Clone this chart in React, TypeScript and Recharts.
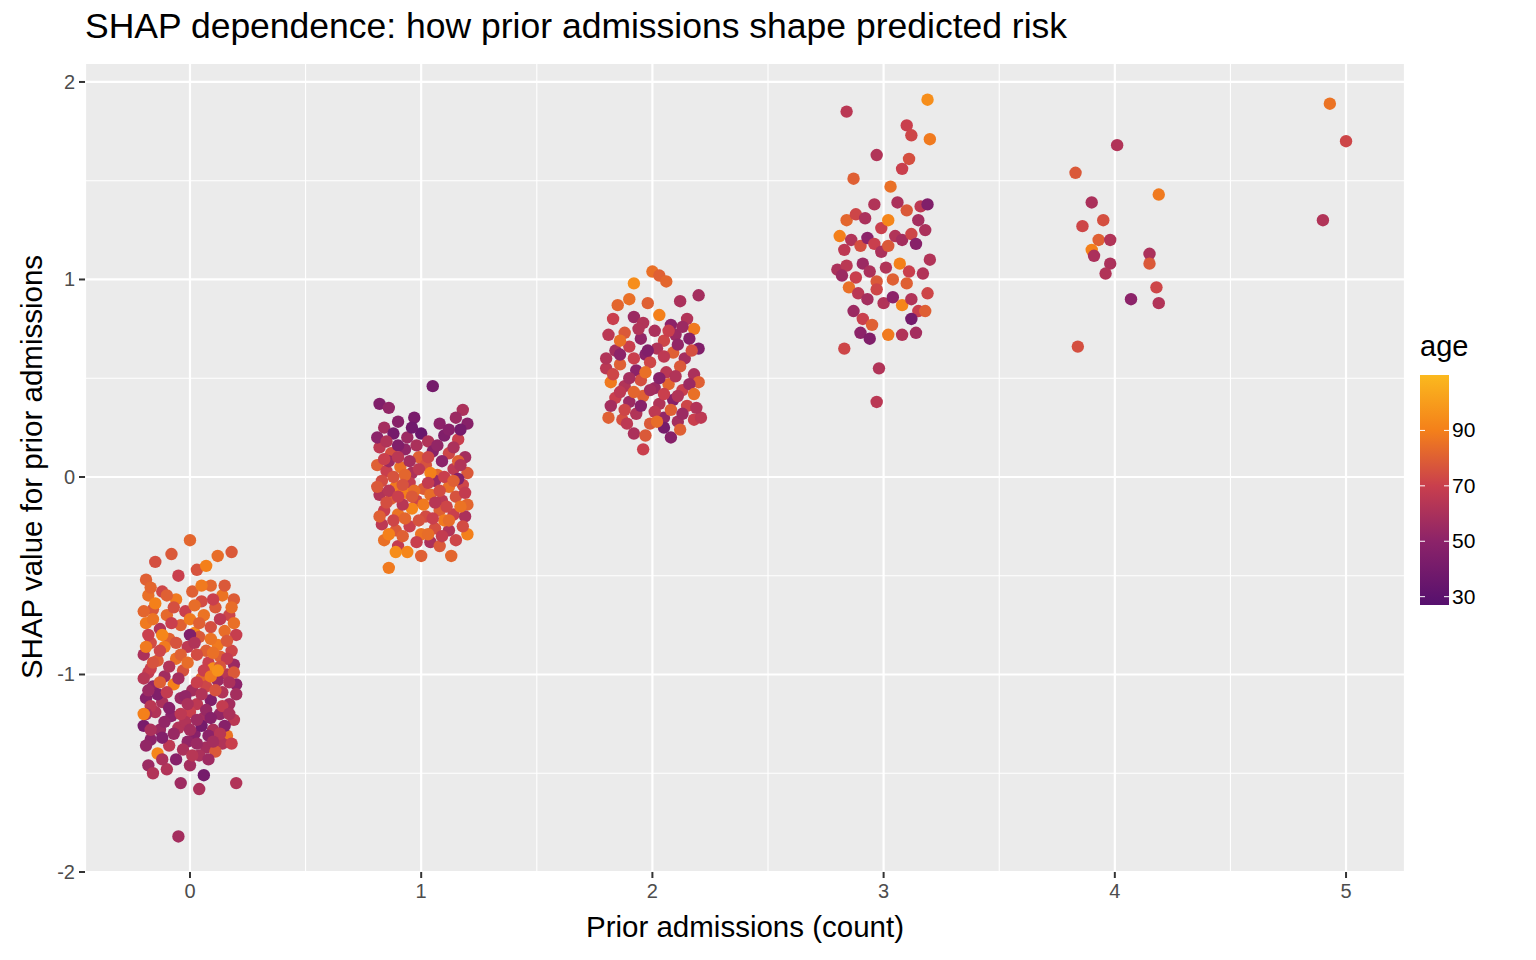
import { CartesianGrid, ReferenceLine, Scatter, ScatterChart, XAxis, YAxis } from "recharts";

// [prior admissions (jittered), SHAP value, age]
const admits0 = [
    [-0.19, -0.52, 80], [-0.15, -0.43, 75], [-0.08, -0.39, 78], [0.0, -0.32, 82], [0.03, -0.47, 76], [0.07, -0.45, 90], [0.12, -0.4, 84], [0.18, -0.38, 78], [-0.05, -0.5, 70], [0.09, -0.55, 82],
    [-0.18, -0.6, 85], [-0.12, -0.58, 72], [-0.06, -0.62, 88], [0.01, -0.58, 80], [0.05, -0.63, 74], [0.14, -0.6, 86], [0.19, -0.62, 79], [-0.16, -0.67, 77], [-0.1, -0.7, 83], [-0.02, -0.68, 70],
    [0.06, -0.7, 86], [0.11, -0.66, 78], [0.17, -0.7, 72], [-0.19, -0.74, 88], [-0.13, -0.77, 62], [-0.04, -0.75, 80], [0.02, -0.79, 92], [0.09, -0.76, 75], [0.15, -0.78, 84], [0.2, -0.8, 69],
    [-0.17, -0.84, 74], [-0.09, -0.82, 81], [-0.01, -0.86, 66], [0.04, -0.81, 78], [0.12, -0.85, 88], [0.18, -0.88, 72], [-0.2, -0.9, 60], [-0.14, -0.93, 79], [-0.06, -0.92, 85], [0.0, -0.8, 45],
    [0.08, -0.94, 70], [0.13, -0.91, 80], [0.19, -0.95, 55], [-0.18, -0.99, 68], [-0.11, -1.01, 57], [-0.03, -0.98, 76], [0.05, -1.02, 82], [0.1, -0.97, 95], [0.16, -1.0, 64], [-0.16, -1.06, 52],
    [-0.07, -1.05, 90], [0.01, -1.08, 58], [0.07, -1.06, 72], [0.14, -1.09, 62], [0.2, -1.05, 50], [-0.19, -1.12, 48], [-0.12, -1.14, 60], [-0.04, -1.12, 55], [0.03, -1.15, 66], [0.09, -1.13, 45],
    [0.17, -1.15, 58], [-0.15, -1.19, 62], [-0.08, -1.21, 50], [0.0, -1.19, 70], [0.06, -1.22, 58], [0.13, -1.2, 52], [0.19, -1.23, 65], [-0.2, -1.26, 42], [-0.13, -1.28, 55], [-0.05, -1.27, 62],
    [0.02, -1.3, 48], [0.1, -1.28, 60], [0.16, -1.31, 86], [-0.17, -1.33, 50], [-0.09, -1.36, 66], [-0.01, -1.34, 52], [0.07, -1.37, 58], [0.14, -1.35, 62], [-0.14, -1.4, 92], [-0.06, -1.43, 48],
    [0.04, -1.41, 60], [0.11, -1.39, 78], [-0.18, -1.46, 55], [-0.1, -1.48, 62], [0.0, -1.46, 58], [0.06, -1.51, 40], [-0.04, -1.55, 56], [0.04, -1.58, 60], [0.2, -1.55, 62], [-0.05, -1.82, 58],
    [-0.15, -0.64, 90], [-0.07, -0.66, 75], [0.02, -0.65, 84], [0.1, -0.62, 70], [-0.11, -0.86, 88], [0.07, -0.88, 80], [-0.17, -0.97, 70], [0.12, -1.03, 55], [-0.02, -1.24, 62], [0.15, -1.26, 48],
    [-0.14, -1.1, 45], [0.05, -1.26, 40],
    [-0.2, -0.68, 82], [-0.16, -0.72, 86], [-0.08, -0.74, 70], [0.0, -0.72, 88], [0.04, -0.74, 80], [0.13, -0.72, 66], [0.19, -0.74, 85], [-0.18, -0.8, 70], [-0.12, -0.8, 92], [-0.06, -0.84, 76],
    [0.02, -0.84, 62], [0.09, -0.82, 86], [0.16, -0.83, 78], [-0.19, -0.86, 88], [-0.13, -0.88, 72], [-0.04, -0.9, 80], [0.03, -0.9, 74], [0.1, -0.89, 85], [0.16, -0.92, 68], [-0.16, -0.94, 76],
    [-0.09, -0.96, 62], [-0.01, -0.94, 84], [0.06, -0.98, 70], [0.13, -0.96, 76], [0.19, -0.99, 78], [-0.2, -1.02, 64], [-0.13, -1.04, 80], [-0.05, -1.02, 58], [0.03, -1.04, 70], [0.09, -1.01, 88],
    [0.17, -1.04, 60], [-0.18, -1.08, 55], [-0.1, -1.09, 68], [-0.02, -1.11, 52], [0.05, -1.1, 62], [0.11, -1.08, 76], [0.2, -1.1, 58], [-0.17, -1.16, 65], [-0.09, -1.17, 48], [-0.01, -1.15, 60],
    [0.07, -1.18, 54], [0.14, -1.16, 68], [-0.19, -1.2, 58], [-0.11, -1.24, 52], [-0.04, -1.2, 66], [0.03, -1.23, 56], [0.09, -1.22, 48], [0.17, -1.2, 60], [-0.17, -1.28, 60], [-0.07, -1.3, 54],
    [0.0, -1.28, 58], [0.08, -1.31, 50], [0.13, -1.3, 64], [-0.19, -1.36, 52], [-0.12, -1.32, 46], [-0.03, -1.38, 60], [0.03, -1.35, 55], [0.1, -1.34, 58], [0.18, -1.35, 70], [-0.12, -1.43, 60],
    [0.01, -1.41, 64], [0.08, -1.43, 56], [-0.16, -1.5, 62], [-0.2, -1.2, 90], [0.12, -0.98, 96], [-0.17, -0.56, 82], [0.15, -0.55, 78], [-0.1, -0.6, 80], [0.05, -0.55, 88], [0.18, -0.66, 84],
];

const admits1 = [
    [0.82, 0.37, 45], [0.86, 0.35, 52], [1.05, 0.46, 40], [1.18, 0.34, 60], [1.15, 0.3, 55], [0.9, 0.28, 48], [0.97, 0.3, 42], [1.08, 0.27, 50], [0.84, 0.25, 58], [1.2, 0.27, 48],
    [0.88, 0.22, 40], [0.94, 0.2, 55], [1.0, 0.22, 35], [1.03, 0.18, 62], [1.1, 0.21, 45], [1.16, 0.19, 70], [0.82, 0.15, 66], [0.87, 0.12, 75], [0.93, 0.14, 52], [0.99, 0.1, 80],
    [1.05, 0.13, 48], [1.12, 0.12, 72], [1.19, 0.1, 58], [0.81, 0.06, 80], [0.85, 0.03, 70], [0.91, 0.05, 85], [0.96, 0.02, 60], [1.02, 0.06, 76], [1.07, 0.01, 82], [1.14, 0.04, 66],
    [1.2, 0.02, 78], [0.83, -0.02, 74], [0.89, -0.05, 88], [0.95, -0.03, 68], [1.01, -0.06, 79], [1.06, -0.02, 55], [1.12, -0.05, 85], [1.18, -0.04, 72], [0.82, -0.09, 62], [0.87, -0.11, 80],
    [0.93, -0.08, 90], [0.98, -0.12, 72], [1.04, -0.09, 84], [1.09, -0.12, 66], [1.15, -0.1, 76], [1.2, -0.14, 82], [0.84, -0.17, 70], [0.9, -0.19, 86], [0.96, -0.16, 92], [1.02, -0.2, 74],
    [1.08, -0.17, 80], [1.14, -0.19, 70], [1.19, -0.2, 60], [0.83, -0.24, 66], [0.89, -0.27, 78], [0.95, -0.25, 70], [1.0, -0.29, 86], [1.06, -0.26, 75], [1.12, -0.27, 62], [0.84, -0.32, 85],
    [0.9, -0.35, 68], [0.94, -0.38, 92], [1.0, -0.4, 80], [1.04, -0.33, 60], [1.08, -0.35, 78], [1.2, -0.29, 90], [1.13, -0.4, 82], [0.86, -0.46, 88], [0.86, 0.08, 55], [0.98, 0.16, 60],
    [1.09, 0.08, 50], [0.92, -0.14, 64], [1.1, -0.22, 88], [1.16, -0.01, 46],
    [0.81, 0.2, 50], [0.9, 0.16, 45], [1.07, 0.16, 52], [1.14, 0.15, 60], [1.17, 0.24, 40], [0.85, 0.18, 62], [0.96, 0.25, 38], [1.12, 0.24, 48], [0.84, 0.09, 70], [0.9, 0.1, 65],
    [0.95, 0.08, 58], [1.03, 0.1, 72], [1.16, 0.08, 80], [0.88, 0.0, 76], [0.93, 0.01, 82], [0.99, 0.04, 66], [1.04, 0.02, 90], [1.1, 0.0, 70], [1.17, 0.06, 62], [0.81, -0.05, 78],
    [0.86, -0.07, 64], [0.92, -0.04, 76], [0.97, -0.07, 84], [1.03, -0.03, 68], [1.08, -0.07, 74], [1.14, -0.02, 80], [1.19, -0.08, 68], [0.85, -0.13, 75], [0.9, -0.1, 70], [0.96, -0.1, 78],
    [1.01, -0.14, 88], [1.06, -0.13, 64], [1.11, -0.15, 72], [1.17, -0.15, 86], [0.82, -0.2, 80], [0.88, -0.22, 72], [0.93, -0.21, 82], [0.99, -0.22, 76], [1.05, -0.21, 70], [1.12, -0.22, 84],
    [1.18, -0.25, 74], [0.86, -0.29, 90], [0.92, -0.3, 80], [0.98, -0.33, 70], [1.03, -0.29, 84], [1.09, -0.3, 68], [1.15, -0.32, 72], [0.89, -0.38, 95],
];

const admits2 = [
    [1.92, 0.98, 95], [2.0, 1.04, 85], [2.03, 1.02, 80], [2.06, 0.99, 82], [1.85, 0.87, 82], [1.9, 0.9, 85], [1.98, 0.88, 80], [2.12, 0.89, 60], [2.2, 0.92, 58], [1.83, 0.8, 70],
    [1.92, 0.81, 55], [1.96, 0.78, 62], [2.03, 0.82, 90], [2.08, 0.77, 50], [2.15, 0.8, 62], [2.18, 0.75, 88], [1.81, 0.72, 65], [1.88, 0.73, 78], [1.95, 0.7, 52], [2.01, 0.74, 60],
    [2.05, 0.69, 72], [2.1, 0.72, 55], [2.16, 0.7, 48], [1.84, 0.64, 58], [1.9, 0.66, 70], [1.97, 0.62, 48], [2.02, 0.65, 62], [2.09, 0.63, 80], [2.14, 0.6, 58], [2.2, 0.65, 45],
    [1.8, 0.55, 65], [1.86, 0.57, 80], [1.93, 0.54, 50], [1.99, 0.58, 72], [2.06, 0.53, 65], [2.12, 0.56, 78], [2.18, 0.52, 60], [1.82, 0.48, 88], [1.88, 0.46, 62], [1.95, 0.49, 75],
    [2.01, 0.45, 55], [2.07, 0.47, 82], [2.13, 0.44, 70], [2.2, 0.48, 80], [1.84, 0.4, 70], [1.9, 0.38, 55], [1.96, 0.41, 80], [2.03, 0.37, 62], [2.09, 0.39, 48], [2.15, 0.36, 72],
    [1.81, 0.3, 80], [1.87, 0.29, 75], [1.93, 0.32, 62], [1.99, 0.27, 78], [2.05, 0.3, 52], [2.11, 0.28, 58], [2.18, 0.29, 70], [2.21, 0.3, 66], [1.92, 0.22, 60], [1.97, 0.21, 78],
    [2.08, 0.2, 48], [2.12, 0.24, 80], [1.96, 0.14, 70], [2.05, 0.25, 40],
    [1.8, 0.6, 62], [1.86, 0.62, 50], [1.92, 0.6, 70], [1.98, 0.64, 45], [2.05, 0.61, 66], [2.11, 0.67, 52], [2.17, 0.64, 75], [1.83, 0.52, 72], [1.9, 0.5, 58], [1.97, 0.53, 85],
    [2.03, 0.5, 48], [2.1, 0.51, 62], [2.16, 0.47, 55], [1.86, 0.43, 66], [1.92, 0.43, 82], [1.99, 0.44, 58], [2.05, 0.42, 70], [2.11, 0.41, 62], [2.18, 0.42, 85], [1.82, 0.36, 58],
    [1.88, 0.34, 72], [1.95, 0.36, 48], [2.01, 0.33, 66], [2.08, 0.34, 80], [2.13, 0.32, 55], [2.19, 0.35, 62], [1.86, 0.69, 85], [1.94, 0.75, 62], [2.07, 0.74, 70], [2.13, 0.76, 55],
    [1.89, 0.27, 66], [2.02, 0.28, 84],
];

const admits3 = [
    [2.84, 1.85, 65], [3.19, 1.91, 95], [2.97, 1.63, 62], [3.1, 1.78, 70], [3.12, 1.73, 72], [3.2, 1.71, 88], [3.11, 1.61, 75], [3.08, 1.56, 70], [2.87, 1.51, 80], [3.03, 1.47, 85],
    [2.84, 1.3, 82], [2.81, 1.22, 90], [2.88, 1.33, 72], [2.92, 1.31, 60], [2.96, 1.38, 62], [2.99, 1.26, 70], [3.02, 1.3, 92], [3.06, 1.39, 60], [3.1, 1.35, 78], [3.16, 1.37, 66],
    [3.15, 1.3, 58], [3.19, 1.38, 45], [3.18, 1.25, 60], [2.83, 1.15, 66], [2.86, 1.2, 62], [2.9, 1.17, 75], [2.93, 1.21, 50], [2.96, 1.18, 70], [2.99, 1.14, 60], [3.02, 1.17, 78],
    [3.05, 1.22, 62], [3.08, 1.2, 58], [3.12, 1.23, 72], [3.14, 1.18, 48], [3.2, 1.1, 62], [2.8, 1.05, 60], [2.84, 1.07, 65], [2.88, 1.01, 70], [2.91, 1.08, 55], [2.94, 1.04, 60],
    [2.97, 0.99, 78], [3.01, 1.06, 62], [3.04, 1.0, 80], [3.07, 1.08, 90], [3.11, 1.04, 70], [3.17, 1.03, 62], [2.82, 1.02, 55], [2.85, 0.96, 85], [2.89, 0.93, 65], [2.93, 0.9, 58],
    [2.97, 0.95, 72], [3.0, 0.88, 62], [3.04, 0.91, 50], [3.08, 0.87, 92], [3.12, 0.9, 62], [3.15, 0.84, 70], [3.19, 0.93, 72], [3.18, 0.84, 80], [2.87, 0.84, 55], [2.91, 0.8, 70],
    [2.95, 0.77, 80], [2.9, 0.73, 50], [2.94, 0.7, 45], [3.02, 0.72, 88], [3.08, 0.72, 62], [3.14, 0.73, 58], [3.12, 0.8, 40], [2.83, 0.65, 72], [2.98, 0.55, 62], [2.97, 0.38, 65],
    [3.1, 0.98, 80],
];

const admits4 = [
    [3.83, 1.54, 78], [4.01, 1.68, 62], [3.86, 1.27, 72], [3.9, 1.39, 60], [3.95, 1.3, 75], [3.93, 1.2, 80], [3.98, 1.2, 62], [3.9, 1.15, 90], [3.91, 1.12, 60],
    [3.98, 1.08, 60], [3.96, 1.03, 62], [4.15, 1.13, 60], [4.15, 1.08, 78], [4.19, 1.43, 88], [4.18, 0.96, 72], [4.19, 0.88, 62], [4.07, 0.9, 50], [3.84, 0.66, 75],
];

const admits5 = [[4.93, 1.89, 86], [5.0, 1.7, 72], [4.9, 1.3, 62]];

const xTicks = [0, 1, 2, 3, 4, 5];
const yTicks = [-2, -1, 0, 1, 2];
const xMinor = [0.5, 1.5, 2.5, 3.5, 4.5];
const yMinor = [-1.5, -0.5, 0.5, 1.5];
const ageTicks = [90, 70, 50, 30];

const points = [admits0, admits1, admits2, admits3, admits4, admits5]
    .flat()
    .map(([x, y, age]) => ({ x, y, age }));

// inferno-ish colour ramp
const stops: [number, number[]][] = [
    [27, [86, 16, 110]],
    [50, [140, 35, 105]],
    [70, [201, 63, 77]],
    [90, [244, 128, 26]],
    [110, [251, 185, 30]],
];

const ageColor = (age: number) => {
    if (age <= stops[0][0]) return `rgb(${stops[0][1].join(",")})`;
    for (let i = 1; i < stops.length; i++) {
        if (age <= stops[i][0]) {
            const [a0, c0] = stops[i - 1];
            const [a1, c1] = stops[i];
            const t = (age - a0) / (a1 - a0);
            const c = c0.map((v, k) => Math.round(v + (c1[k] - v) * t));
            return `rgb(${c.join(",")})`;
        }
    }
    return `rgb(${stops[stops.length - 1][1].join(",")})`;
};

const Dot = (props: any) => (
    <circle cx={props.cx} cy={props.cy} r={6.2} fill={ageColor(props.payload.age)} />
);

const font = "'Liberation Sans', Arial, sans-serif";

const XTick = (p: any) => (
    <text x={p.x} y={p.y + 18} textAnchor="middle" fontSize={20} fill="#4d4d4d" fontFamily={font}>
        {p.payload.value}
    </text>
);

const YTick = (p: any) => (
    <text x={p.x - 2} y={p.y + 7} textAnchor="end" fontSize={20} fill="#4d4d4d" fontFamily={font}>
        {p.payload.value}
    </text>
);

const App = () => {
    return (
        <div style={{ position: "absolute", left: 0, top: 0, width: 1536, height: 960, background: "#fff", fontFamily: font }}>
            <div style={{ position: "absolute", left: 85, top: 6, fontSize: 35.5, color: "#000", whiteSpace: "nowrap" }}>
                SHAP dependence: how prior admissions shape predicted risk
            </div>
            <div style={{ position: "absolute", left: 0, width: 1490, top: 910, textAlign: "center", fontSize: 29.5 }}>
                Prior admissions (count)
            </div>
            <div
                style={{
                    position: "absolute", left: 32, top: 467, fontSize: 29.5, whiteSpace: "nowrap",
                    transform: "translate(-50%, -50%) rotate(-90deg)",
                }}
            >
                SHAP value for prior admissions
            </div>
            <ScatterChart width={1420} height={960} margin={{ top: 63, right: 15, bottom: 58, left: 0 }}>
                <CartesianGrid fill="#EBEBEB" stroke="#fff" strokeWidth={2.2} />
                {xMinor.map((v) => (
                    <ReferenceLine key={"x" + v} x={v} stroke="#fff" strokeWidth={1.1} />
                ))}
                {yMinor.map((v) => (
                    <ReferenceLine key={"y" + v} y={v} stroke="#fff" strokeWidth={1.1} />
                ))}
                <XAxis
                    type="number" dataKey="x" domain={[-0.454, 5.255]} ticks={xTicks} allowDataOverflow
                    height={30} axisLine={false} tickLine={{ stroke: "#333", strokeWidth: 2 }} tickSize={6} tick={<XTick />}
                />
                <YAxis
                    type="number" dataKey="y" domain={[-2.0, 2.096]} ticks={yTicks} allowDataOverflow
                    width={85} axisLine={false} tickLine={{ stroke: "#333", strokeWidth: 2 }} tickSize={6} tick={<YTick />}
                />
                <Scatter data={points} shape={Dot} isAnimationActive={false} />
            </ScatterChart>
            <svg style={{ position: "absolute", left: 1410, top: 330 }} width={126} height={290}>
                <defs>
                    <linearGradient id="ageGrad" x1="0" y1="1" x2="0" y2="0">
                        {stops.map(([a, c]) => (
                            <stop key={a} offset={`${((a - 27) / (110 - 27)) * 100}%`} stopColor={`rgb(${c.join(",")})`} />
                        ))}
                    </linearGradient>
                </defs>
                <text x={10} y={26} fontSize={29} fontFamily={font}>age</text>
                <rect x={10} y={45} width={29} height={230} fill="url(#ageGrad)" />
                {ageTicks.map((a) => {
                    const y = 275 - ((a - 27) / (110 - 27)) * 230;
                    return (
                        <g key={a}>
                            <line x1={10} x2={15} y1={y} y2={y} stroke="#fff" />
                            <line x1={34} x2={39} y1={y} y2={y} stroke="#fff" />
                            <text x={42} y={y + 7} fontSize={21} fill="#000" fontFamily={font}>{a}</text>
                        </g>
                    );
                })}
            </svg>
        </div>
    );
};

export default App;
